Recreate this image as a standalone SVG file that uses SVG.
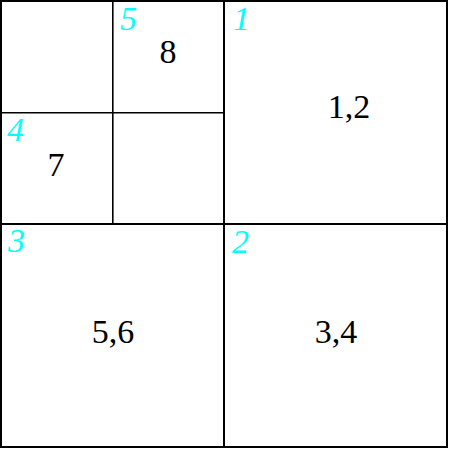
<svg xmlns="http://www.w3.org/2000/svg" width="449" height="449" viewBox="0 0 449 449">
<style>
.b{fill:none;stroke:#000;stroke-width:2}
.t{fill:none;stroke:#000;stroke-width:1.6}
.n{font-family:"Liberation Serif","Times New Roman",serif;font-size:34px;fill:#000;text-anchor:middle}
.l{font-family:"Liberation Serif","Times New Roman",serif;font-size:34px;font-style:italic;fill:#00ffff}
</style>
<rect width="449" height="449" fill="#fff"/>
<g id="connectors">
<rect class="b" x="1" y="1" width="446" height="446"/>
<line class="b" x1="224" y1="1" x2="224" y2="447"/>
<line class="b" x1="1" y1="224" x2="447" y2="224"/>
<line class="t" x1="112.8" y1="1" x2="112.8" y2="224"/>
<line class="t" x1="1" y1="112.8" x2="224" y2="112.8"/>
</g>
<g id="node5"><text class="l" x="120" y="30">5</text><text class="n" x="168" y="63">8</text></g>
<g id="node1"><text class="l" x="233" y="30">1</text><text class="n" x="349" y="118">1,2</text></g>
<g id="node4"><text class="l" x="7" y="141">4</text><text class="n" x="56" y="176">7</text></g>
<g id="node3"><text class="l" x="8" y="252">3</text><text class="n" x="113" y="343">5,6</text></g>
<g id="node2"><text class="l" x="232" y="253">2</text><text class="n" x="336" y="343">3,4</text></g>
</svg>
